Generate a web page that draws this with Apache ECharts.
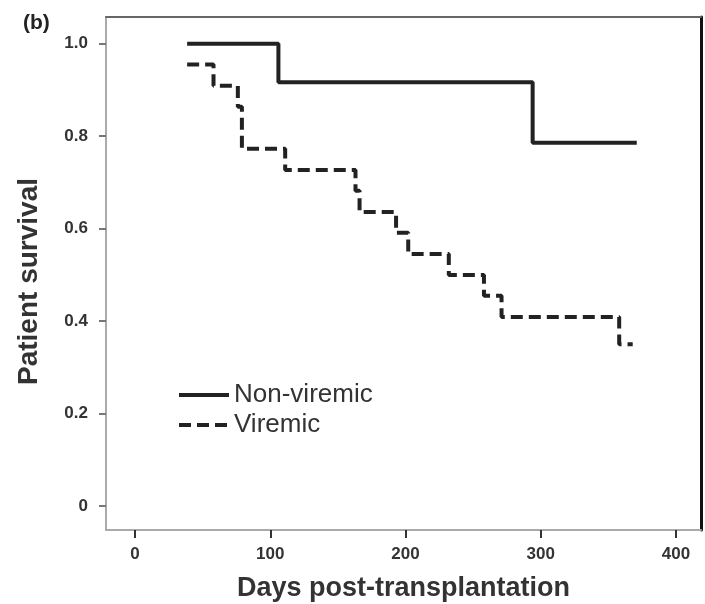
<!DOCTYPE html>
<html>
<head>
<meta charset="utf-8">
<script src="https://cdn.jsdelivr.net/npm/echarts@6/dist/echarts.min.js"></script>
<style>
  html, body { margin: 0; padding: 0; background: #fff; }
  #chart { width: 705px; height: 604px; }
</style>
</head>
<body>
<div id="chart"></div>
<script>
// Kaplan-Meier step points: [day, survival] - value holds until next point
var nonViremic = [[38.5, 1.0], [106, 0.917], [294, 0.786], [371, 0.786]];
var viremic = [
  [38.5, 0.955], [58, 0.909], [76, 0.864], [79, 0.773], [111, 0.727],
  [163, 0.682], [166, 0.636], [193, 0.591], [202, 0.545], [232, 0.5],
  [258, 0.455], [271, 0.409], [358, 0.35], [368, 0.35]
];
var xTicks = [0, 100, 200, 300, 400];
var yTicks = [0, 0.2, 0.4, 0.6, 0.8, 1.0];

var chart = echarts.init(document.getElementById('chart'));

var FONT = 'Liberation Sans, Arial, sans-serif';
var tickFont = { color: '#333', fontSize: 17, fontWeight: 'bold', fontFamily: FONT };

var option = {
  animation: false,
  backgroundColor: '#fff',
  title: {
    text: '(b)',
    left: 18, top: 8,
    textStyle: { fontSize: 21, fontWeight: 'bold', color: '#222', fontFamily: FONT }
  },
  grid: { left: 106, top: 17, right: 4, bottom: 74, outerBoundsMode: 'none', containLabel: false },
  legend: {
    orient: 'vertical',
    left: 172, top: 377,
    itemWidth: 50, itemHeight: 14, itemGap: 4,
    itemStyle: { opacity: 0 },
    lineStyle: { width: 4 },
    textStyle: { fontSize: 26, color: '#333', fontFamily: FONT },
    data: ['Non-viremic', 'Viremic']
  },
  xAxis: [{
    type: 'value', min: -21.5, max: 418.5,
    name: 'Days post-transplantation', nameLocation: 'middle', nameGap: 45,
    nameTextStyle: { fontSize: 27, fontWeight: 'bold', color: '#333', fontFamily: FONT },
    axisLine: { onZero: false, lineStyle: { color: '#aaa', width: 2 } },
    axisTick: { customValues: xTicks, length: 8, lineStyle: { color: '#333', width: 2 } },
    axisLabel: Object.assign({ customValues: xTicks, margin: 16 }, tickFont),
    splitLine: { show: false }
  }, {
    type: 'value', position: 'top', min: -21.5, max: 418.5,
    axisLine: { show: true, onZero: false, lineStyle: { color: '#666', width: 2 } },
    axisTick: { show: false }, axisLabel: { show: false }, splitLine: { show: false }
  }],
  yAxis: [{
    type: 'value', min: -0.052, max: 1.058,
    name: 'Patient survival', nameLocation: 'middle', nameGap: 63, nameRotate: 90,
    nameTextStyle: { fontSize: 28, fontWeight: 'bold', color: '#333', fontFamily: FONT, padding: [0, 16, 0, 0] },
    axisLine: { show: true, onZero: false, lineStyle: { color: '#aaa', width: 2 } },
    axisTick: { show: true, customValues: yTicks, length: 7, lineStyle: { color: '#777', width: 2 } },
    axisLabel: Object.assign({
      customValues: yTicks, margin: 18,
      formatter: function (v) { return v === 0 ? '0' : v.toFixed(1); }
    }, tickFont),
    splitLine: { show: false }
  }, {
    type: 'value', position: 'right', min: -0.052, max: 1.058,
    axisLine: { show: true, onZero: false, lineStyle: { color: '#111', width: 3 } },
    axisTick: { show: false }, axisLabel: { show: false }, splitLine: { show: false }
  }],
  series: [{
    name: 'Non-viremic',
    type: 'line', step: 'end', symbol: 'none',
    data: nonViremic,
    lineStyle: { color: '#222', width: 4 },
    itemStyle: { color: '#222' }
  }, {
    name: 'Viremic',
    type: 'line', step: 'end', symbol: 'none',
    data: viremic,
    lineStyle: { color: '#222', width: 4, type: [12, 6] },
    itemStyle: { color: '#222' }
  }]
};
chart.setOption(option);
</script>
</body>
</html>
